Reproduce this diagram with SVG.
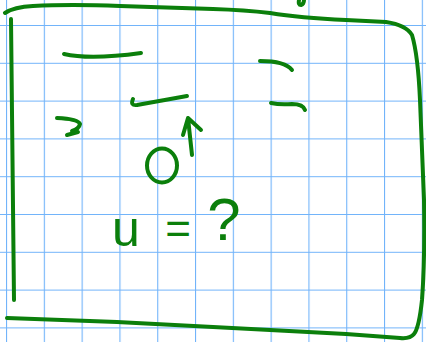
<svg xmlns="http://www.w3.org/2000/svg" width="426" height="342" viewBox="0 0 426 342">
<defs>
<pattern id="grid" x="6" y="25" width="37.8" height="37.8" patternUnits="userSpaceOnUse">
<path d="M0,0 V37.8 M0,0 H37.8" fill="none" stroke="#72b4fa" stroke-width="2.2"/>
</pattern>
</defs>
<style>
.ink{fill:none;stroke:#0b7f0b;stroke-width:4;stroke-linecap:round;stroke-linejoin:round}
.hand{fill:#0b7f0b;font-family:"Liberation Sans",Arial,sans-serif;text-anchor:middle}
</style>
<rect width="426" height="342" fill="#ffffff"/>
<rect width="426" height="342" fill="url(#grid)"/>
<g id="frame">
<path class="ink" d="M5,13 Q14,7 33,6 Q70,4 120,6 L213,9 Q245,10 270,13 Q300,18 346,20 L386,22 Q406,25 412,35 Q418,55 420,100 L424,200 Q425,260 422,300 Q419,328 414,334 Q410,339 400,338 L346,334 L270,330 L213,327 L117,322 L7,318"/>
<path class="ink" d="M11,19 Q12,150 14,300"/>
<path class="ink" d="M299,0 Q298,5 301,5 Q304,4 304,0"/>
</g>
<g id="marks">
<path class="ink" d="M64,54 Q90,60 141,53"/>
<path class="ink" d="M57,118 Q78,119 80,124 Q79,129 72,131 M67,135 L78,132"/>
<path class="ink" d="M260,61 Q285,61 292,70"/>
<path class="ink" d="M271,103 Q280,105 292,104 Q303,104 305,110"/>
</g>
<g id="particle">
<ellipse class="ink" cx="162" cy="165.5" rx="15" ry="17"/>
</g>
<g id="connectors">
<path class="ink" d="M133,99 Q130,106 137,105 L187,96"/>
<path class="ink" d="M192,155 L188,118 M183,135 L188,118 L201,130"/>
</g>
<g id="label">
<text class="hand" x="126" y="246" font-size="50">u</text>
<text class="hand" x="178" y="244" font-size="44">=</text>
<text class="hand" x="224" y="240" font-size="60">?</text>
</g>
</svg>
